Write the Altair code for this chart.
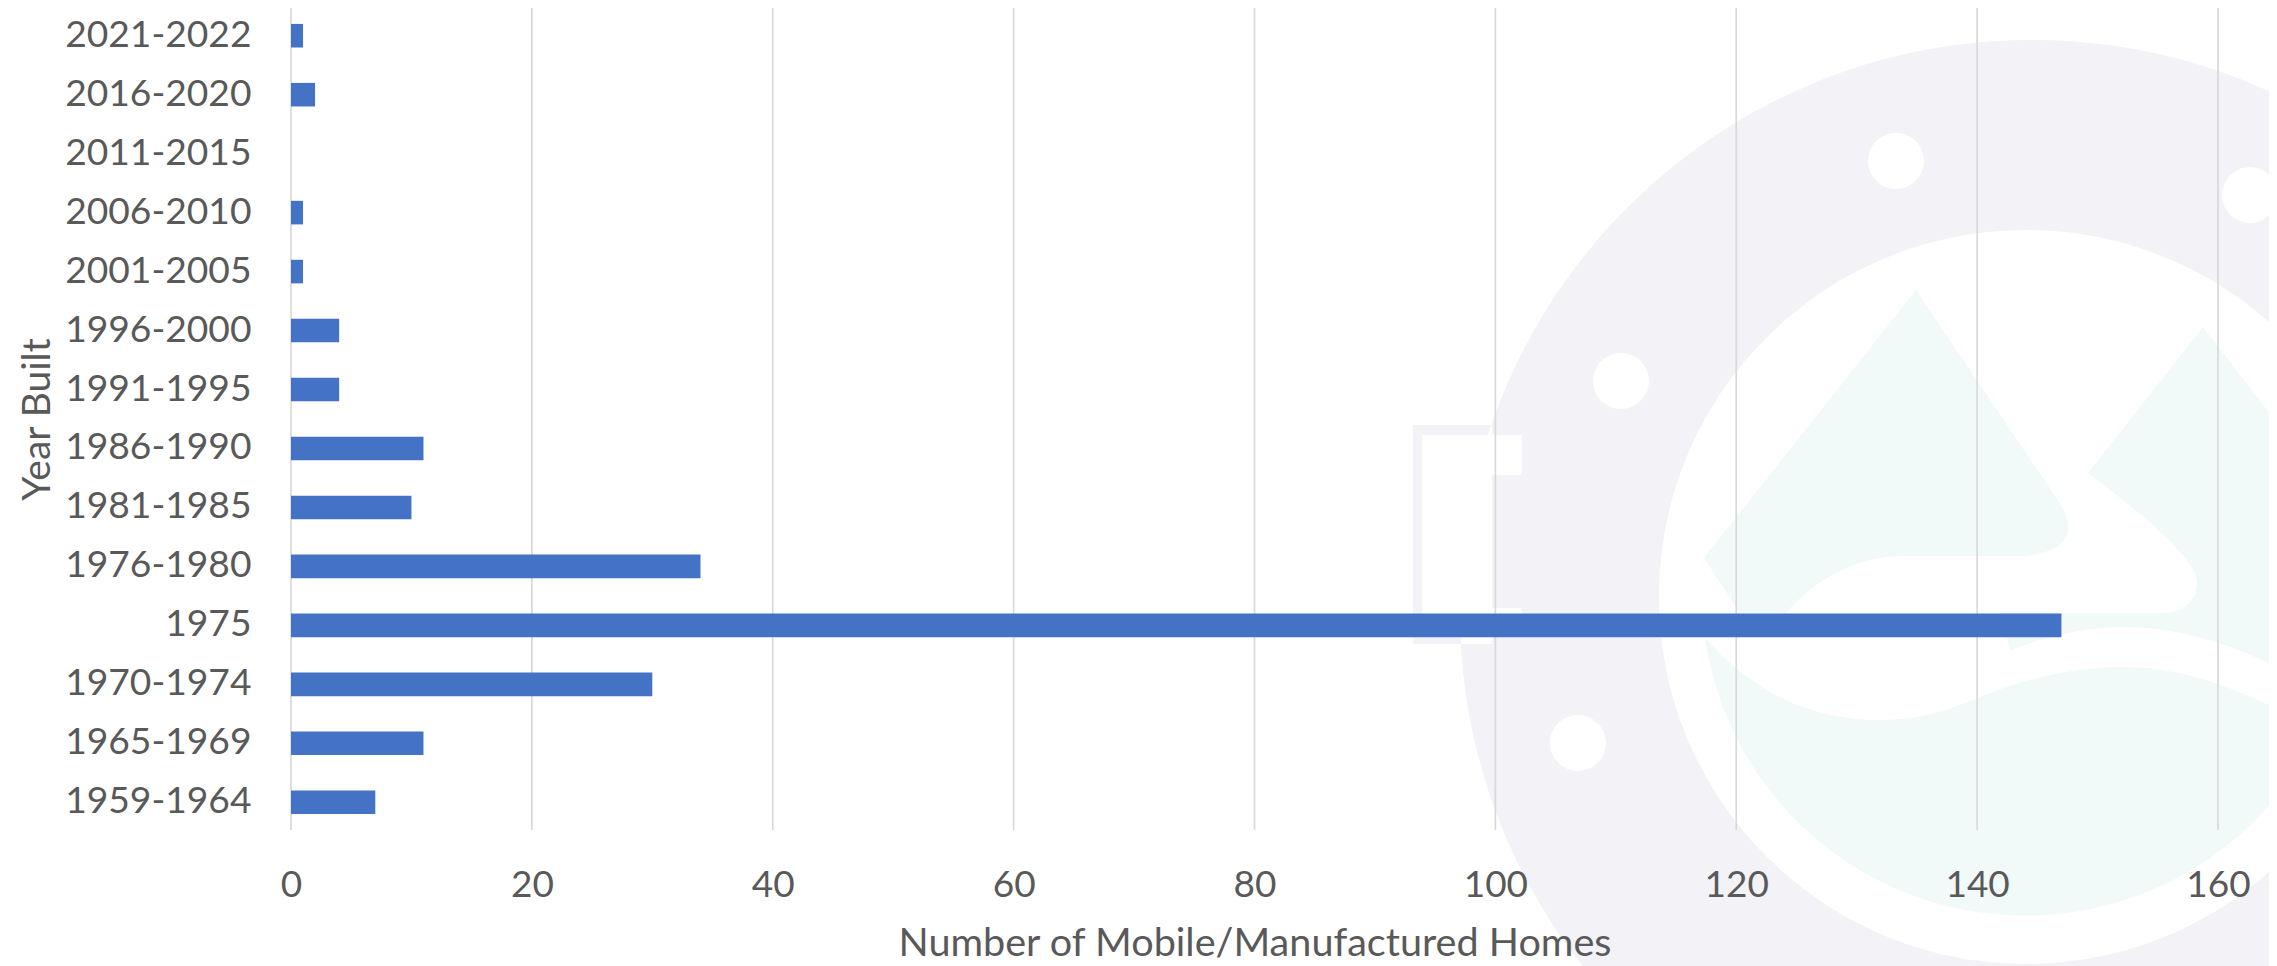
import altair as alt
import pandas as pd

# ---- chart values
categories = ["2021-2022", "2016-2020", "2011-2015", "2006-2010", "2001-2005", "1996-2000", "1991-1995",
              "1986-1990", "1981-1985", "1976-1980", "1975", "1970-1974", "1965-1969", "1959-1964"]
homes = [1, 2, 0, 1, 1, 4, 4, 11, 10, 34, 147, 30, 11, 7]
x_ticks = [0, 20, 40, 60, 80, 100, 120, 140, 160]

FONT = "Lato"
TEXT = "#595959"
GRID = "#D9D9D9"
BAR = "#4472C4"
WM_GRAY = "#F2F2F7"
WM_TEAL = "#F1FAF8"
OX, OY = 291, 8  # plot origin on the page


def P(x, y):
    return f"{x - OX} {y - OY}"


def circle(cx, cy, r):
    return (f"M{P(cx - r, cy)} A{r} {r} 0 1 0 {P(cx + r, cy)} "
            f"A{r} {r} 0 1 0 {P(cx - r, cy)} Z ")


def poly(pts):
    return "M" + " L".join(P(*p) for p in pts) + " Z "


ring_outer = circle(2032, 612, 572)
frame = poly([(1413, 425), (1492, 425), (1492, 644), (1413, 644)])
ring_inner = circle(2026, 597, 367)
holes = circle(1896, 161, 28) + circle(2250, 195, 28) + circle(1621, 381, 28) + circle(1578, 743, 28)
cutout = poly([(1422, 435), (1522, 435), (1522, 475), (1489, 475), (1489, 608),
               (1522, 608), (1522, 635), (1422, 635)])
big_mountain = (f"M{P(1916, 290)} L{P(2057, 499)} Q{P(2090, 548)} {P(2026, 556)} L{P(1904, 556)} "
                f"C{P(1850, 556)} {P(1810, 585)} {P(1786, 613)} L{P(1740, 613)} L{P(1704, 558)} Z ")
second_mountain = (f"M{P(2203, 327)} L{P(2340, 505)} A324 324 0 0 1 {P(2345, 650)} L{P(2300, 680)} "
                   f"C{P(2240, 645)} {P(2180, 627)} {P(2122, 627)} C{P(2085, 627)} {P(2045, 637)} {P(2010, 650)} "
                   f"L{P(2000, 613)} L{P(2163, 613)} C{P(2185, 613)} {P(2197, 600)} {P(2197, 582)} "
                   f"C{P(2197, 560)} {P(2150, 520)} {P(2088, 473)} Z ")
lower_water = (f"M{P(1705, 638)} C{P(1760, 700)} {P(1820, 720)} {P(1879, 720)} C{P(1930, 720)} {P(1960, 705)} {P(1998, 690)} "
               f"C{P(2050, 672)} {P(2090, 667)} {P(2122, 667)} C{P(2180, 667)} {P(2230, 685)} {P(2300, 720)} "
               f"L{P(2340, 670)} A324 324 0 0 1 {P(1705, 638)} Z ")


def logo(path, color):
    return alt.Chart(alt.Data(values=[{"s": 1}])).mark_point(
        shape=path, filled=True, size=4, color=color, opacity=1, strokeWidth=0, clip=False
    ).encode(x=alt.value(0), y=alt.value(0))


df = pd.DataFrame({"category": categories, "homes": homes})
x_scale = alt.Scale(domain=[0, 160], nice=False, zero=True)
x_axis = alt.Axis(values=x_ticks, title="Number of Mobile/Manufactured Homes", grid=False,
                  domain=False, ticks=False, labelFont=FONT, labelFontSize=37, labelColor=TEXT,
                  labelPadding=37, labelFlush=False, labelOverlap=False, labelLimit=400, titleFont=FONT,
                  titleFontSize=39.6, titleColor=TEXT, titleFontWeight="normal", titlePadding=21,
                  titleLimit=1200, zindex=1)

grid = alt.Chart(pd.DataFrame({"tick": x_ticks})).mark_rule(color=GRID, strokeWidth=1.7).encode(
    x=alt.X("tick:Q", scale=x_scale, axis=x_axis)
)

bars = alt.Chart(df).mark_bar(color=BAR).encode(
    x=alt.X("homes:Q", scale=x_scale, axis=x_axis),
    y=alt.Y("category:N", sort=categories,
            scale=alt.Scale(paddingInner=0.6, paddingOuter=0.27),
            axis=alt.Axis(title="Year Built", grid=False, domain=False, ticks=False, labelFont=FONT,
                          labelFontSize=37.2, labelColor=TEXT, labelPadding=40, labelLimit=400, titleFont=FONT,
                          titleFontSize=39, titleColor=TEXT, titleFontWeight="normal", titlePadding=34,
                          zindex=1)),
)

chart = alt.layer(
    logo(ring_outer + frame, WM_GRAY),
    logo(ring_inner + holes + cutout, "#FFFFFF"),
    logo(big_mountain + second_mountain + lower_water, WM_TEAL),
    grid,
    bars,
).properties(
    width=1927, height=822,
    padding={"left": 283, "top": 0, "right": 51, "bottom": 136},
    autosize=alt.AutoSizeParams(type="none"),
    background="#FFFFFF",
).configure_view(strokeWidth=0)

chart.save("out.html", embed_options={"renderer": "svg", "actions": False})
